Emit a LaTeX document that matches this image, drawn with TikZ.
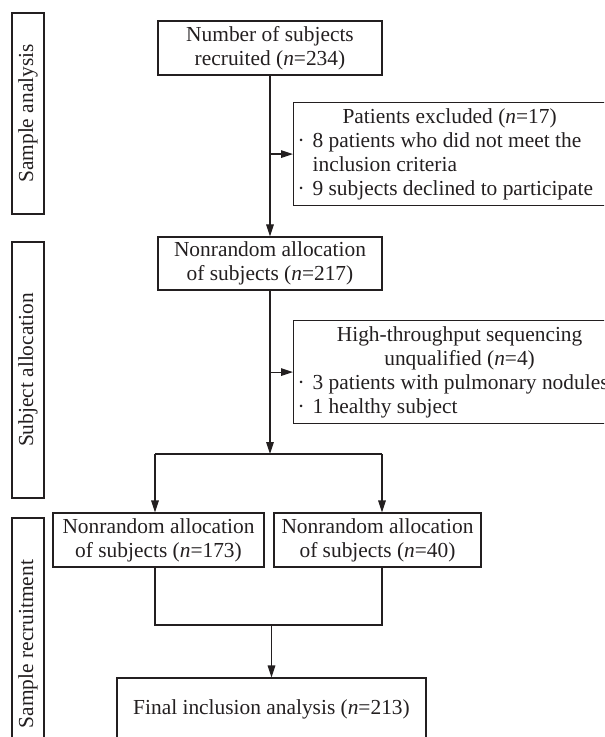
\documentclass[tikz,border=0pt]{standalone}
\usepackage{fontspec}
\setmainfont{Liberation Serif}
\usetikzlibrary{arrows.meta}
\usetikzlibrary{calc}
\usepackage{xcolor}
\definecolor{ink}{HTML}{231F20}

\newcommand{\bul}{\makebox[7.5pt][l]{\textperiodcentered}}

\begin{document}
\begin{tikzpicture}[x=0.5pt,y=-0.5pt,color=ink,line width=0.6pt,
    font=\fontsize{10.7}{12}\selectfont,
    box/.style={draw, align=center, inner sep=0pt},
    exbox/.style={draw, align=flush left, inner xsep=2pt, inner ysep=0pt,
      minimum height=51.5pt, anchor=north west},
    sidebox/.style={draw, rotate=90, minimum height=16pt, inner sep=0pt},
    arr/.style={-{Triangle[length=6pt,width=3.8pt]}}]
      \useasboundingbox (0,0) rectangle (604,737);
      \clip (0,0) rectangle (604,737);

      % Stage labels
      \node[sidebox, minimum width=100.5pt] (stageA) at (28,113.5) {Sample analysis};
      \node[sidebox, minimum width=128pt] (stageB) at (28,370) {Subject allocation};
      \node[sidebox, minimum width=126pt] (stageC) at (28,644) {Sample recruitment};

      % Main boxes
      \node[box, minimum width=112pt, minimum height=27pt] (recr) at (270,48)
        {Number of subjects\\recruited (\textit{n}=234)};
      \node[box, minimum width=112pt, minimum height=26.5pt] (alloc) at (270,263.5)
        {Nonrandom allocation\\of subjects (\textit{n}=217)};
      \node[box, minimum width=105.5pt, minimum height=27pt] (grpA) at (158.5,540)
        {Nonrandom allocation\\of subjects (\textit{n}=173)};
      \node[box, minimum width=103.5pt, minimum height=27pt] (grpB) at (377.5,540)
        {Nonrandom allocation\\of subjects (\textit{n}=40)};
      \node[box, minimum width=154.5pt, minimum height=31pt] (final) at (271.5,709)
        {Final inclusion analysis (\textit{n}=213)};

      % Excluded
      \node[exbox, text width=152pt] (excl) at (293,102)
        {{\centering Patients excluded (\textit{n}=17)\par}
         \bul 8 patients who did not meet the\\
         \hspace*{7.5pt}inclusion criteria\\
         \bul 9 subjects declined to participate};
      \node[exbox, text width=162pt] (unq) at (293,320)
        {{\centering High-throughput sequencing\\unqualified (\textit{n}=4)\par}
         \bul 3 patients with pulmonary nodules\\
         \bul 1 healthy subject};

      % Connectors
      \draw[arr] (recr.south) -- (alloc.north);
      \draw[arr] (excl.west -| recr.south) -- (excl.west);
      \coordinate (splitL) at (155,454);
      \coordinate (splitR) at (382,454);
      \draw[arr] (alloc.south) -- (alloc.south |- splitL);
      \draw[arr] (unq.west -| alloc.south) -- (unq.west);
      \draw (splitL) -- (splitR);
      \draw[arr] (splitL) -- (splitL |- grpA.north);
      \draw[arr] (splitR) -- (splitR |- grpB.north);

      % Join
      \coordinate (joinL) at (155,625);
      \coordinate (joinR) at (382,625);
      \draw (joinL |- grpA.south) -- (joinL) -- (joinR) -- (joinR |- grpB.south);
      \draw[arr] (final.north |- joinL) -- (final.north);
  \end{tikzpicture}
\end{document}
